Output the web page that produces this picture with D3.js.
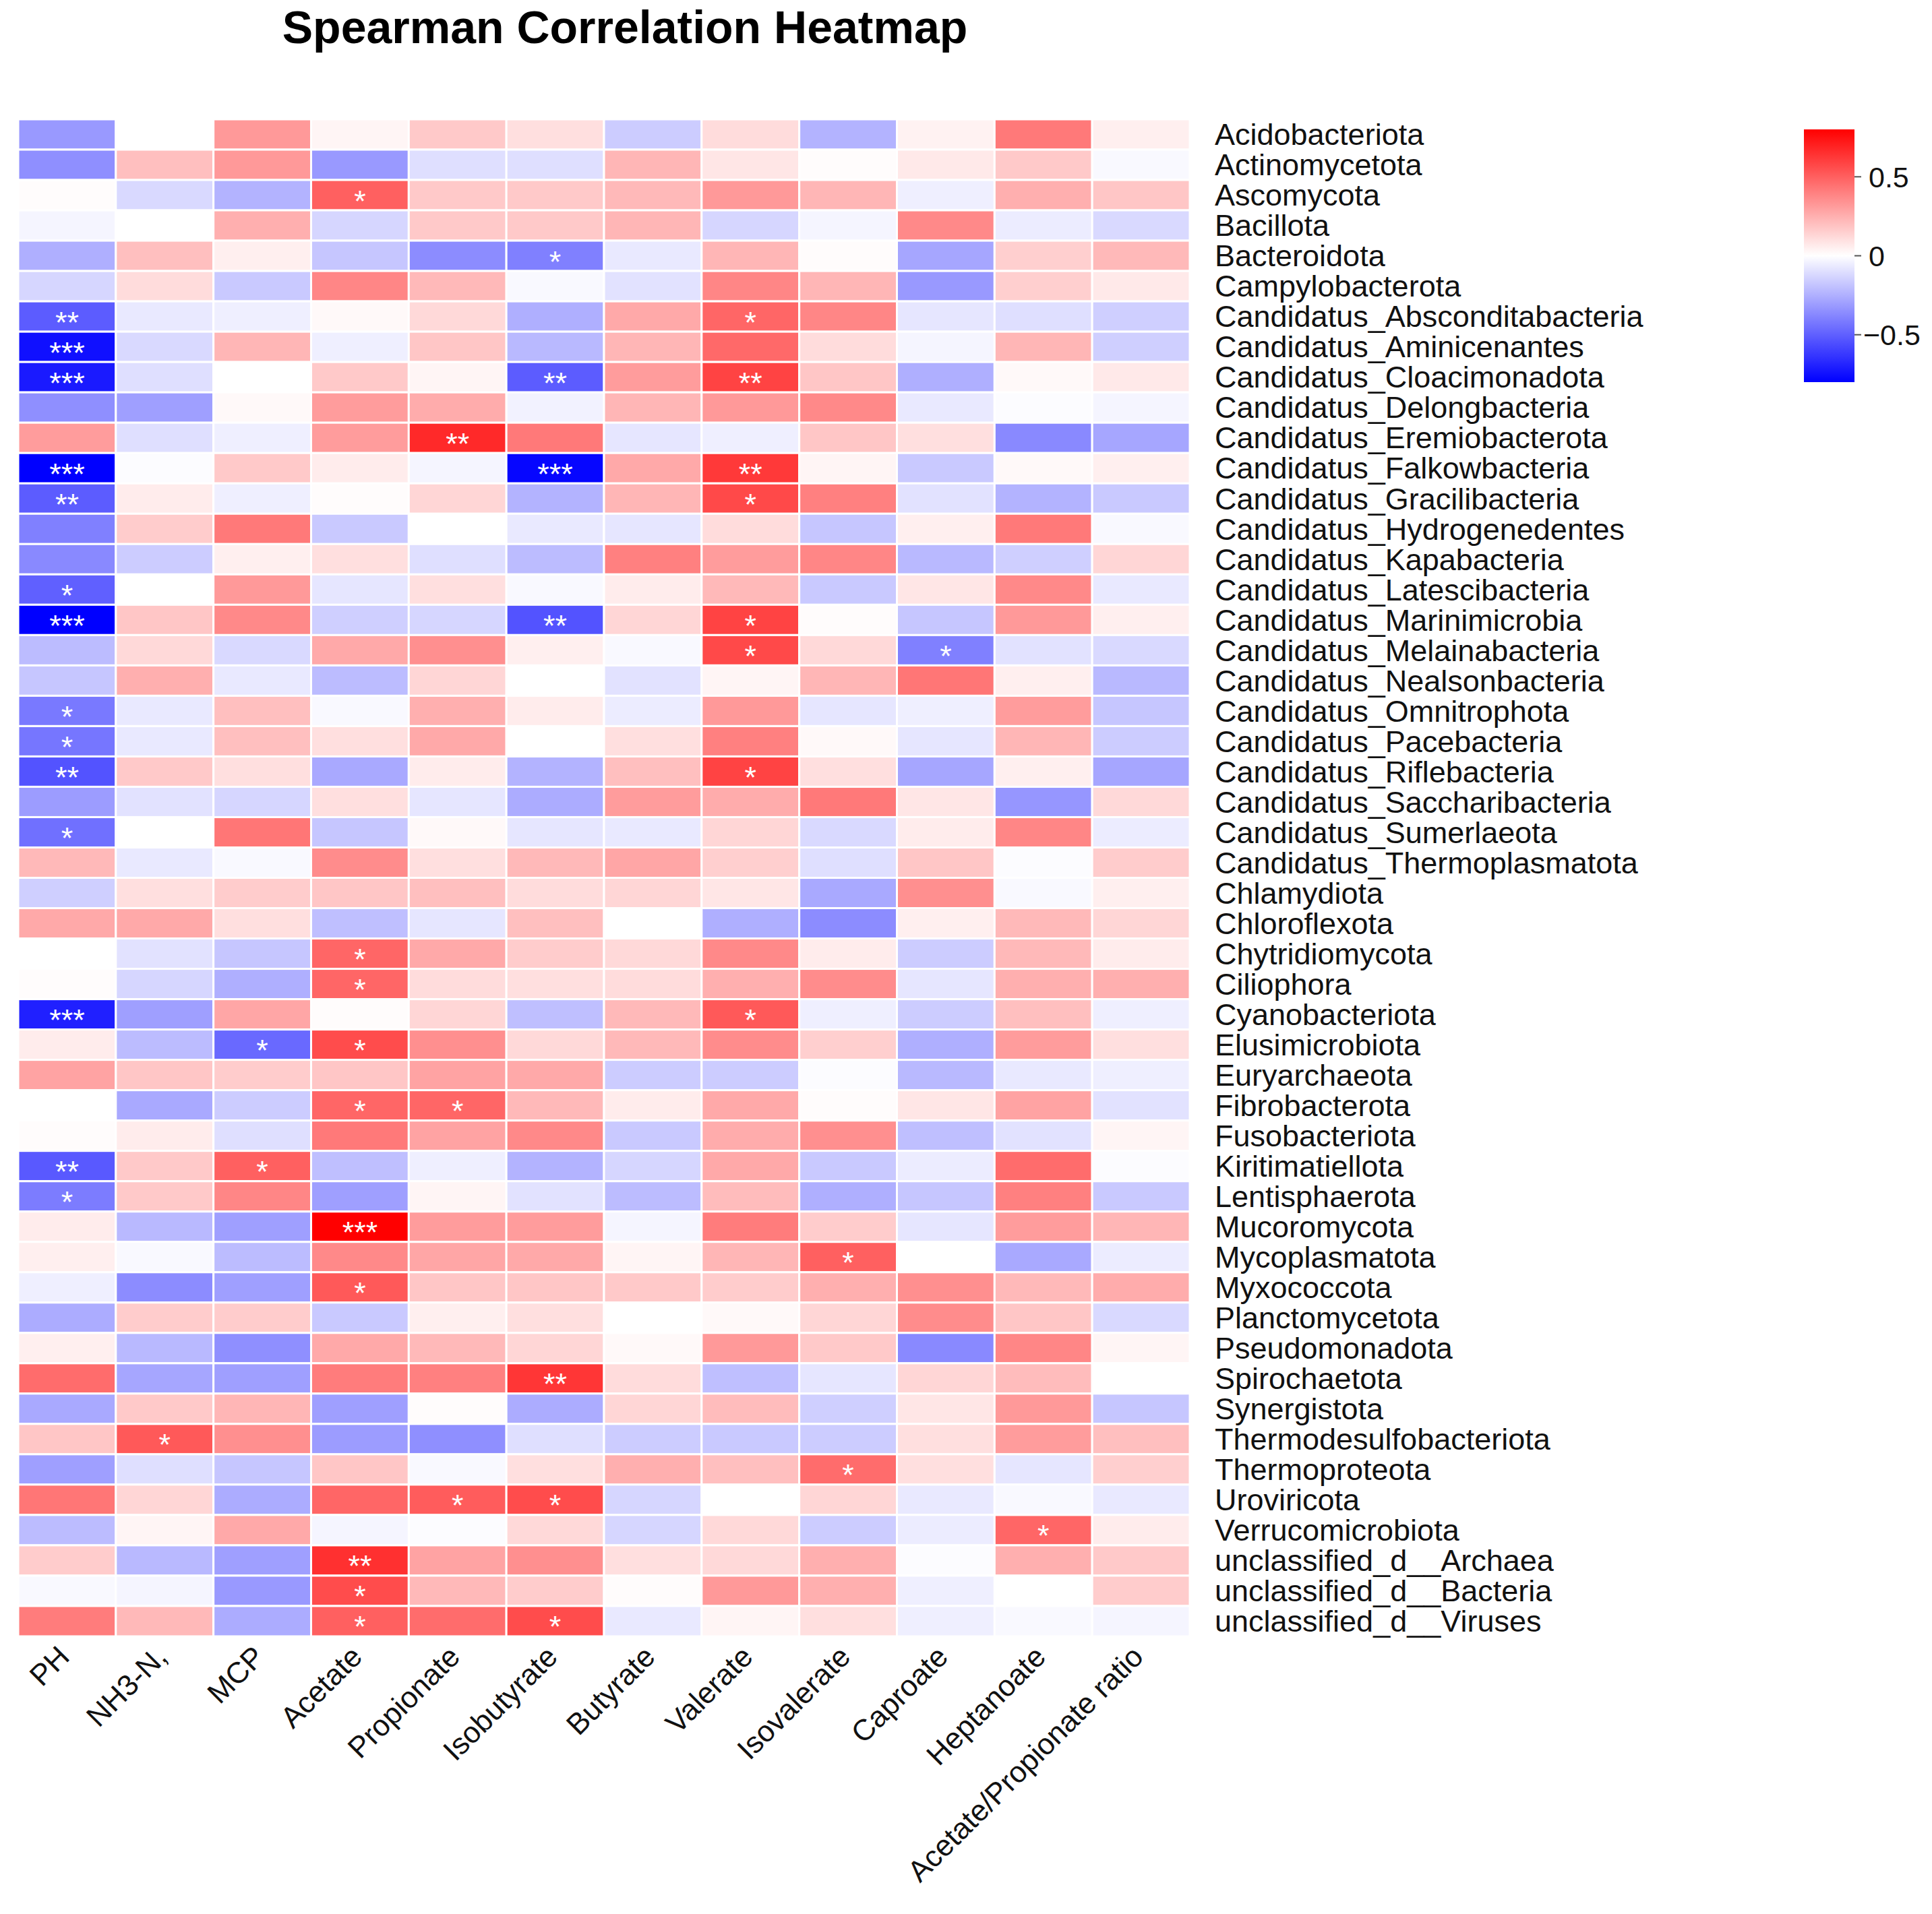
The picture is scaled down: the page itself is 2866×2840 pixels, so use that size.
<!DOCTYPE html>
<html>
<head>
<meta charset="utf-8">
<script src="https://cdn.jsdelivr.net/npm/d3@7"></script>
<style>
  html, body { margin: 0; padding: 0; background: #fff; }
  svg { display: block; font-family: "Liberation Sans", Arial, Helvetica, sans-serif; }
</style>
</head>
<body>
<div id="chart"></div>
<script>
// variables (columns)
const variables = ["PH", "NH3-N,", "MCP", "Acetate", "Propionate", "Isobutyrate", "Butyrate",
  "Valerate", "Isovalerate", "Caproate", "Heptanoate", "Acetate/Propionate ratio"];

// taxa (rows)
const taxa = ["Acidobacteriota", "Actinomycetota", "Ascomycota", "Bacillota", "Bacteroidota",
  "Campylobacterota", "Candidatus_Absconditabacteria", "Candidatus_Aminicenantes",
  "Candidatus_Cloacimonadota", "Candidatus_Delongbacteria", "Candidatus_Eremiobacterota",
  "Candidatus_Falkowbacteria", "Candidatus_Gracilibacteria", "Candidatus_Hydrogenedentes",
  "Candidatus_Kapabacteria", "Candidatus_Latescibacteria", "Candidatus_Marinimicrobia",
  "Candidatus_Melainabacteria", "Candidatus_Nealsonbacteria", "Candidatus_Omnitrophota",
  "Candidatus_Pacebacteria", "Candidatus_Riflebacteria", "Candidatus_Saccharibacteria",
  "Candidatus_Sumerlaeota", "Candidatus_Thermoplasmatota", "Chlamydiota", "Chloroflexota",
  "Chytridiomycota", "Ciliophora", "Cyanobacteriota", "Elusimicrobiota", "Euryarchaeota",
  "Fibrobacterota", "Fusobacteriota", "Kiritimatiellota", "Lentisphaerota", "Mucoromycota",
  "Mycoplasmatota", "Myxococcota", "Planctomycetota", "Pseudomonadota", "Spirochaetota",
  "Synergistota", "Thermodesulfobacteriota", "Thermoproteota", "Uroviricota",
  "Verrucomicrobiota", "unclassified_d__Archaea", "unclassified_d__Bacteria",
  "unclassified_d__Viruses"];

// spearman rho, one row per taxon, same order as variables
const rho = [
  [-0.32, 0.00, 0.32, 0.03, 0.17, 0.10, -0.16, 0.11, -0.24, 0.04, 0.42, 0.05],
  [-0.35, 0.20, 0.32, -0.32, -0.10, -0.10, 0.23, 0.08, 0.01, 0.07, 0.17, -0.02],
  [0.01, -0.12, -0.24, 0.50, 0.17, 0.17, 0.22, 0.32, 0.23, -0.05, 0.25, 0.18],
  [-0.03, 0.00, 0.25, -0.13, 0.17, 0.17, 0.23, -0.13, -0.03, 0.37, -0.06, -0.12],
  [-0.25, 0.20, 0.05, -0.18, -0.36, -0.40, -0.07, 0.23, 0.01, -0.28, 0.15, 0.22],
  [-0.13, 0.11, -0.17, 0.38, 0.22, -0.02, -0.09, 0.38, 0.23, -0.32, 0.15, 0.07],
  [-0.51, -0.07, -0.05, 0.02, 0.12, -0.25, 0.27, 0.48, 0.38, -0.08, -0.10, -0.15],
  [-0.75, -0.12, 0.23, -0.05, 0.18, -0.22, 0.23, 0.47, 0.11, -0.03, 0.23, -0.15],
  [-0.72, -0.10, 0.00, 0.17, 0.03, -0.51, 0.31, 0.59, 0.18, -0.25, 0.02, 0.07],
  [-0.35, -0.30, 0.02, 0.31, 0.26, -0.04, 0.23, 0.32, 0.37, -0.07, -0.01, -0.03],
  [0.31, -0.10, -0.05, 0.31, 0.67, 0.42, -0.08, -0.05, 0.18, 0.10, -0.37, -0.28],
  [-0.80, -0.01, 0.17, 0.06, -0.03, -0.78, 0.27, 0.62, 0.03, -0.17, 0.02, 0.05],
  [-0.51, 0.06, -0.05, 0.01, 0.13, -0.24, 0.23, 0.57, 0.40, -0.09, -0.24, -0.17],
  [-0.40, 0.16, 0.42, -0.17, 0.00, -0.07, -0.08, 0.11, -0.18, 0.05, 0.42, -0.02],
  [-0.37, -0.16, 0.05, 0.10, -0.10, -0.21, 0.40, 0.31, 0.38, -0.22, -0.15, 0.13],
  [-0.50, 0.00, 0.32, -0.08, 0.10, -0.02, 0.06, 0.22, -0.17, 0.08, 0.37, -0.07],
  [-0.80, 0.18, 0.37, -0.15, -0.13, -0.54, 0.13, 0.59, 0.01, -0.18, 0.32, 0.05],
  [-0.21, 0.12, -0.12, 0.27, 0.35, 0.05, -0.02, 0.57, 0.12, -0.40, -0.09, -0.12],
  [-0.18, 0.25, -0.07, -0.21, 0.13, 0.00, -0.09, 0.03, 0.23, 0.43, 0.05, -0.22],
  [-0.42, -0.07, 0.20, -0.02, 0.25, 0.06, -0.06, 0.32, -0.08, -0.05, 0.31, -0.18],
  [-0.43, -0.07, 0.20, 0.10, 0.27, 0.00, 0.10, 0.40, 0.02, -0.08, 0.23, -0.16],
  [-0.54, 0.17, 0.10, -0.27, 0.06, -0.24, 0.20, 0.59, 0.10, -0.28, 0.05, -0.28],
  [-0.31, -0.09, -0.13, 0.10, -0.08, -0.26, 0.31, 0.26, 0.42, 0.08, -0.33, 0.12],
  [-0.45, 0.00, 0.43, -0.18, 0.02, -0.08, -0.07, 0.13, -0.12, 0.06, 0.38, -0.06],
  [0.22, -0.07, -0.02, 0.36, 0.10, 0.22, 0.28, 0.15, -0.10, 0.18, -0.01, 0.16],
  [-0.15, 0.10, 0.16, 0.18, 0.20, 0.11, 0.13, 0.08, -0.27, 0.35, -0.02, 0.05],
  [0.27, 0.27, 0.10, -0.20, -0.08, 0.20, 0.00, -0.25, -0.36, 0.05, 0.22, 0.13],
  [0.00, -0.09, -0.18, 0.48, 0.27, 0.16, 0.12, 0.37, 0.06, -0.16, 0.22, 0.06],
  [0.01, -0.13, -0.25, 0.48, 0.11, 0.10, 0.11, 0.25, 0.36, -0.08, 0.25, 0.25],
  [-0.70, -0.30, 0.28, 0.01, 0.13, -0.20, 0.22, 0.52, -0.05, -0.16, 0.20, -0.05],
  [0.06, -0.21, -0.47, 0.56, 0.35, 0.12, 0.22, 0.36, 0.15, -0.25, 0.31, 0.10],
  [0.29, 0.18, 0.16, 0.18, 0.29, 0.27, -0.16, -0.16, -0.01, -0.22, -0.07, -0.05],
  [0.00, -0.27, -0.16, 0.48, 0.48, 0.22, 0.06, 0.27, 0.01, 0.08, 0.29, -0.09],
  [0.01, 0.06, -0.10, 0.42, 0.29, 0.37, -0.17, 0.26, 0.35, -0.20, -0.09, 0.03],
  [-0.52, 0.17, 0.50, -0.20, -0.05, -0.24, -0.13, 0.27, -0.17, -0.06, 0.46, -0.01],
  [-0.41, 0.17, 0.38, -0.30, 0.03, -0.09, -0.21, 0.21, -0.25, -0.18, 0.40, -0.17],
  [0.06, -0.22, -0.30, 0.80, 0.31, 0.31, -0.03, 0.41, 0.16, -0.08, 0.31, 0.23],
  [0.05, -0.02, -0.21, 0.37, 0.28, 0.27, 0.03, 0.23, 0.50, 0.00, -0.27, -0.06],
  [-0.05, -0.36, -0.30, 0.52, 0.18, 0.18, 0.17, 0.16, 0.25, 0.35, 0.22, 0.26],
  [-0.26, 0.16, 0.16, -0.17, 0.05, 0.10, 0.00, 0.02, 0.13, 0.36, 0.18, -0.12],
  [0.05, -0.22, -0.35, 0.27, 0.22, 0.13, 0.02, 0.32, 0.17, -0.37, 0.38, 0.03],
  [0.46, -0.28, -0.30, 0.41, 0.40, 0.63, 0.11, -0.20, -0.08, 0.13, 0.21, 0.00],
  [-0.27, 0.17, 0.23, -0.30, 0.01, -0.26, 0.13, 0.21, -0.15, 0.08, 0.32, -0.18],
  [0.18, 0.52, 0.35, -0.31, -0.35, -0.10, -0.16, -0.17, -0.16, 0.10, 0.31, 0.20],
  [-0.30, -0.10, -0.18, 0.18, -0.02, 0.10, 0.25, 0.20, 0.46, 0.10, -0.08, 0.15],
  [0.43, 0.13, -0.26, 0.48, 0.51, 0.56, -0.13, 0.00, 0.13, -0.07, -0.02, -0.07],
  [-0.21, 0.03, 0.27, -0.03, -0.01, 0.12, -0.13, 0.12, -0.16, -0.06, 0.48, 0.06],
  [0.16, -0.22, -0.30, 0.65, 0.29, 0.35, 0.10, 0.12, 0.25, -0.01, 0.25, 0.17],
  [-0.02, -0.03, -0.32, 0.56, 0.22, 0.16, 0.01, 0.32, 0.25, -0.05, 0.00, 0.16],
  [0.41, 0.22, -0.26, 0.50, 0.46, 0.56, -0.07, 0.03, 0.10, -0.05, -0.02, -0.03]
];

// significance marks: [row, column, number of stars]
const stars = [
  [2, 3, 1], [4, 5, 1], [6, 0, 2], [6, 7, 1], [7, 0, 3],
  [8, 0, 3], [8, 5, 2], [8, 7, 2], [10, 4, 2], [11, 0, 3], [11, 5, 3], [11, 7, 2],
  [12, 0, 2], [12, 7, 1], [15, 0, 1], [16, 0, 3], [16, 5, 2], [16, 7, 1],
  [17, 7, 1], [17, 9, 1], [19, 0, 1], [20, 0, 1], [21, 0, 2], [21, 7, 1], [23, 0, 1],
  [27, 3, 1], [28, 3, 1], [29, 0, 3], [29, 7, 1], [30, 2, 1], [30, 3, 1],
  [32, 3, 1], [32, 4, 1], [34, 0, 2], [34, 2, 1], [35, 0, 1], [36, 3, 3], [37, 8, 1],
  [38, 3, 1], [41, 5, 2], [43, 1, 1], [44, 8, 1], [45, 4, 1], [45, 5, 1], [46, 10, 1],
  [47, 3, 2], [48, 3, 1], [49, 3, 1], [49, 5, 1]
];

const legendTicks = [0.5, 0, -0.5];
const legendLabels = ["0.5", "0", "\u22120.5"];

(function () {
  const W = 2866, H = 2840;
  const mLeft = 27, mRight = 1765, mTop = 177, mBottom = 2428;

  const svg = d3.select("#chart").append("svg")
    .attr("width", W).attr("height", H);

  const x = d3.scaleBand().domain(d3.range(variables.length)).range([mLeft, mRight]);
  const y = d3.scaleBand().domain(d3.range(taxa.length)).range([mTop, mBottom]);
  const color = d3.scaleLinear().domain([-0.8, 0, 0.8])
    .range(["#0000ff", "#ffffff", "#ff0000"]).clamp(true);

  // title
  svg.append("text")
    .attr("x", 927).attr("y", 64)
    .attr("text-anchor", "middle")
    .attr("font-size", 68).attr("font-weight", "bold")
    .text("Spearman Correlation Heatmap");

  // cells
  const cells = [];
  rho.forEach((row, i) => row.forEach((v, j) => cells.push({ i, j, v })));

  svg.append("g")
    .selectAll("rect")
    .data(cells)
    .join("rect")
    .attr("x", d => x(d.j))
    .attr("y", d => y(d.i))
    .attr("width", x.bandwidth())
    .attr("height", y.bandwidth())
    .attr("fill", d => color(d.v))
    .attr("stroke", "#fff")
    .attr("stroke-width", 3);

  // stars
  svg.append("g")
    .selectAll("text")
    .data(stars)
    .join("text")
    .attr("x", d => x(d[1]) + x.bandwidth() / 2)
    .attr("y", d => y(d[0]) + y.bandwidth() / 2 + 24)
    .attr("text-anchor", "middle")
    .attr("font-size", 45)
    .attr("fill", "#fff")
    .text(d => "*".repeat(d[2]));

  // row labels
  svg.append("g")
    .selectAll("text")
    .data(taxa)
    .join("text")
    .attr("x", mRight + 37)
    .attr("y", (d, i) => y(i) + y.bandwidth() / 2)
    .attr("dy", "0.35em")
    .attr("font-size", 45)
    .attr("fill", "#111")
    .text(d => d);

  // column labels
  svg.append("g")
    .selectAll("text")
    .data(variables)
    .join("text")
    .attr("text-anchor", "end")
    .attr("font-size", 44)
    .attr("fill", "#111")
    .attr("transform", (d, j) => `translate(${x(j) + x.bandwidth() / 2 + 6},${mBottom + 33}) rotate(-45)`)
    .text(d => d);

  // colour legend
  const lgX = 2676, lgW = 75, lgTop = 192, lgBottom = 567;
  const ly = d3.scaleLinear().domain([0.8, -0.8]).range([lgTop, lgBottom]);

  const grad = svg.append("defs").append("linearGradient")
    .attr("id", "lg").attr("x1", 0).attr("y1", 0).attr("x2", 0).attr("y2", 1);
  d3.range(0, 1.0001, 0.05).forEach(t => {
    grad.append("stop").attr("offset", t).attr("stop-color", color(0.8 - 1.6 * t));
  });

  svg.append("rect")
    .attr("x", lgX).attr("y", lgTop)
    .attr("width", lgW).attr("height", lgBottom - lgTop)
    .attr("fill", "url(#lg)");

  const lg = svg.append("g");
  lg.selectAll("line")
    .data(legendTicks)
    .join("line")
    .attr("x1", lgX + lgW).attr("x2", lgX + lgW + 10)
    .attr("y1", d => ly(d)).attr("y2", d => ly(d))
    .attr("stroke", "#555").attr("stroke-width", 2);

  lg.selectAll("text")
    .data(legendTicks)
    .join("text")
    .attr("x", d => d < 0 ? lgX + lgW + 13 : lgX + lgW + 21)
    .attr("y", d => ly(d))
    .attr("dy", "0.36em")
    .attr("font-size", 43)
    .attr("fill", "#111")
    .text((d, k) => legendLabels[k]);
})();
</script>
</body>
</html>
